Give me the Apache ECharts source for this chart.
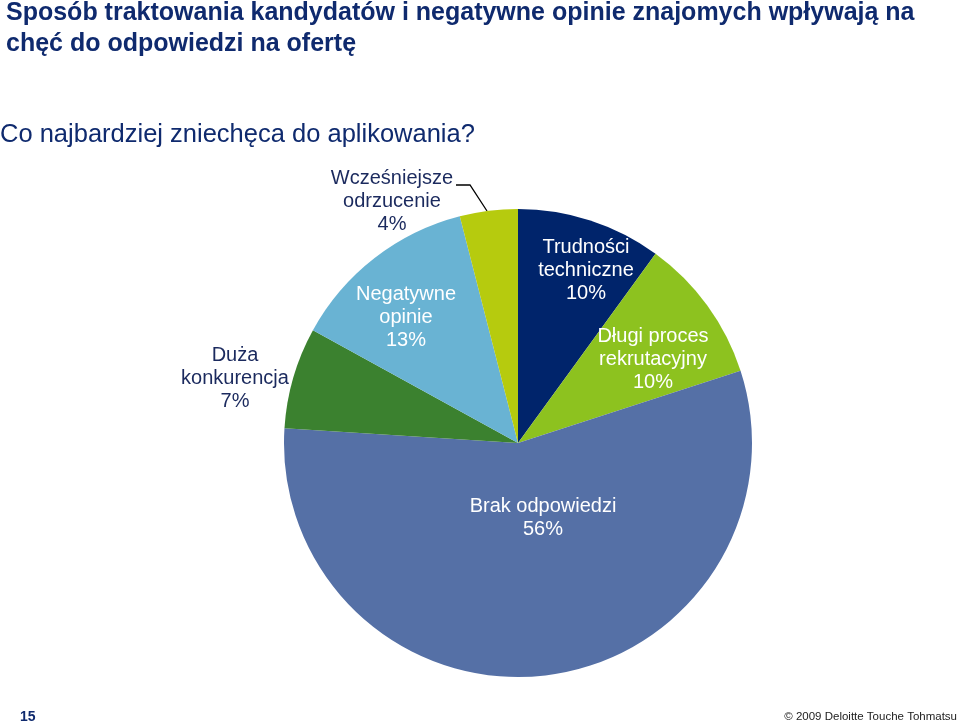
<!DOCTYPE html>
<html><head><meta charset="utf-8">
<script src="https://cdn.jsdelivr.net/npm/echarts@6/dist/echarts.min.js"></script>
<style>html,body{margin:0;padding:0;background:#fff}#c{width:960px;height:723px}</style>
</head><body><div id="c"></div>
<script>
const categories = ['Trudności\ntechniczne', 'Długi proces\nrekrutacyjny', 'Brak odpowiedzi', 'Duża\nkonkurencja', 'Negatywne\nopinie', 'Wcześniejsze\nodrzucenie'];
const values = [10, 10, 56, 7, 13, 4];
const colors = ['#00246b', '#8dc21f', '#5570a6', '#3b812f', '#69b3d3', '#b6cb0e'];
const insideLabel = [true, true, true, false, true, false];
// label anchor centres (layout only)
const labelCentres = [[586, 270], [653, 359], [543, 518], [235, 378], [406, 317], [392, 201]];

const chart = echarts.init(document.getElementById('c'), null, {renderer: 'canvas'});
const data = categories.map((c, i) => ({
  name: c, value: values[i],
  itemStyle: {color: colors[i]},
  label: {color: insideLabel[i] ? '#ffffff' : '#1b2a5e'},
  labelLine: {show: i === 5, lineStyle: {color: '#000', width: 1.3}}
}));
chart.setOption({
  animation: false,
  title: [
    {text: 'Sposób traktowania kandydatów i negatywne opinie znajomych wpływają na\nchęć do odpowiedzi na ofertę', left: 6, top: -2, padding: 0,
     textStyle: {fontFamily: 'Liberation Sans', fontWeight: 'bold', fontSize: 25, color: '#0f2a6e', lineHeight: 31}},
    {text: 'Co najbardziej zniechęca do aplikowania?', left: 0, top: 122, padding: 0,
     textStyle: {fontFamily: 'Liberation Sans', fontWeight: 'normal', fontSize: 25.5, color: '#0f2a6e'}},
    {text: '15', left: 20, top: 710, padding: 0,
     textStyle: {fontFamily: 'Liberation Sans', fontWeight: 'bold', fontSize: 14, color: '#0f2a6e'}},
    {text: '© 2009 Deloitte Touche Tohmatsu', right: 3, top: 711, padding: 0,
     textStyle: {fontFamily: 'Liberation Sans', fontWeight: 'normal', fontSize: 11.5, color: '#222222'}}
  ],
  series: [{
    type: 'pie',
    center: [518, 443],
    radius: 234,
    startAngle: 90,
    clockwise: true,
    avoidLabelOverlap: false,
    data: data,
    label: {
      show: true, position: 'outside',
      formatter: p => p.name + '\n' + p.value + '%',
      fontFamily: 'Liberation Sans', fontSize: 20, lineHeight: 23, align: 'center'
    },
    labelLine: {show: false},
    labelLayout: function (p) {
      const c = labelCentres[p.dataIndex];
      const r = {x: c[0], y: c[1], align: 'center', verticalAlign: 'middle'};
      if (p.dataIndex === 5) {
        r.labelLinePoints = [[487, 211], [470, 185], [456, 185]];
      }
      return r;
    },
    emphasis: {disabled: true}
  }]
});
</script></body></html>
